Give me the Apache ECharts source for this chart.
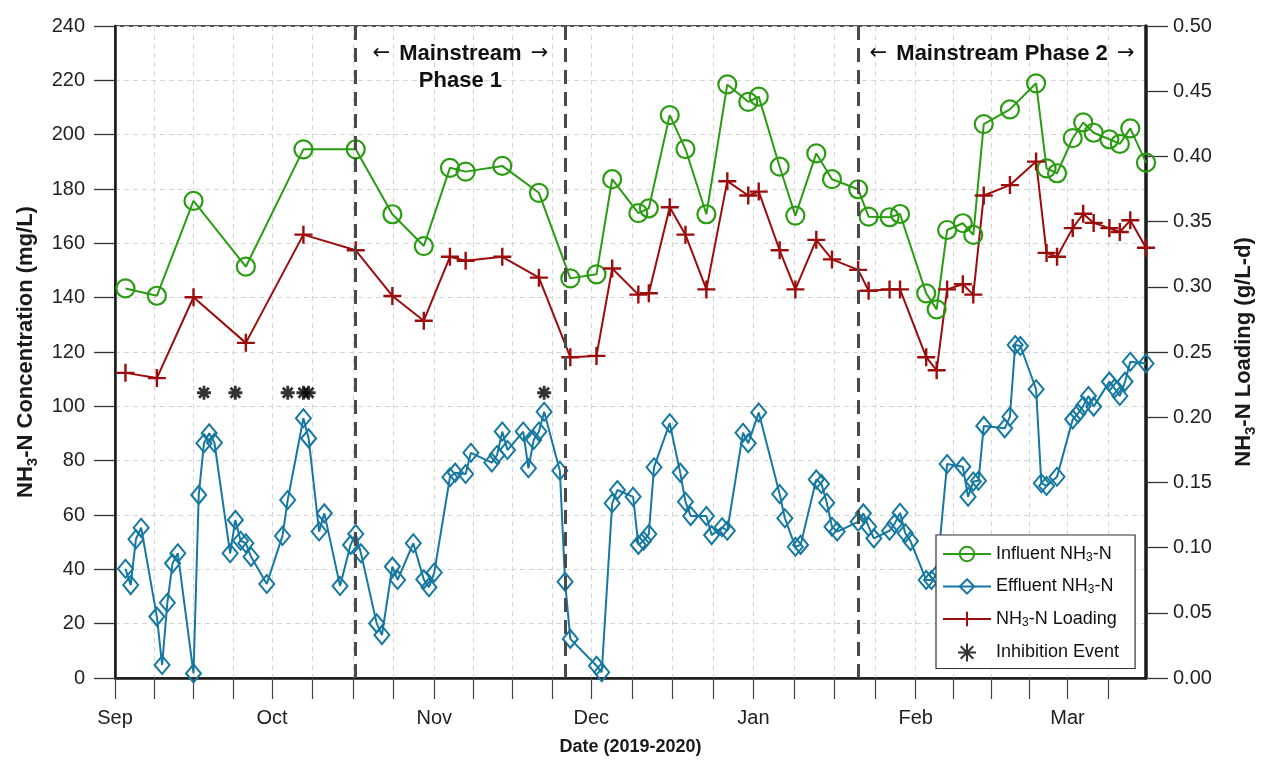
<!DOCTYPE html>
<html>
<head>
<meta charset="utf-8">
<title>NH3-N concentration and loading</title>
<script src="https://cdn.jsdelivr.net/npm/echarts@6/dist/echarts.min.js"></script>
<style>
  html, body { margin: 0; padding: 0; background: #fff; }
  #chart { width: 1270px; height: 765px; }
</style>
</head>
<body>
<div id="chart"></div>
<script>
// ---- data ----------------------------------------------------------------
const influentDates = [
  '2019-09-03','2019-09-09','2019-09-16','2019-09-26',
  '2019-10-07','2019-10-17','2019-10-24','2019-10-30',
  '2019-11-04','2019-11-07','2019-11-14','2019-11-21','2019-11-27',
  '2019-12-02','2019-12-05','2019-12-10','2019-12-12','2019-12-16','2019-12-19','2019-12-23','2019-12-27','2019-12-31',
  '2020-01-02','2020-01-06','2020-01-09','2020-01-13','2020-01-16','2020-01-21','2020-01-23','2020-01-27','2020-01-29',
  '2020-02-03','2020-02-05','2020-02-07','2020-02-10','2020-02-12','2020-02-14','2020-02-19','2020-02-24','2020-02-26','2020-02-28',
  '2020-03-02','2020-03-04','2020-03-06','2020-03-09','2020-03-11','2020-03-13','2020-03-16'
];
// Influent NH3-N (mg/L)
const influent = [
  143.4, 140.7, 175.6, 151.4,
  194.6, 194.6, 170.7, 159.0,
  187.8, 186.4, 188.5, 178.6, 147.1,
  148.6, 183.6, 171.1, 172.9, 207.2, 194.7, 170.7, 218.5, 212.1,
  214.0, 188.2, 170.2, 193.1, 183.6, 179.9, 169.8, 169.6, 170.8,
  141.6, 135.7, 164.9, 167.4, 163.1, 203.9, 209.3, 218.9, 187.6, 185.8,
  198.7, 204.5, 200.7, 198.3, 196.6, 202.3, 189.7
];
// NH3-N loading (g/L-d), same sampling dates as influent
const loading = [
  0.234, 0.230, 0.292, 0.257,
  0.340, 0.328, 0.293, 0.274,
  0.323, 0.320, 0.323, 0.307, 0.246,
  0.247, 0.314, 0.294, 0.295, 0.361, 0.340, 0.298, 0.381, 0.370,
  0.373, 0.328, 0.298, 0.336, 0.321, 0.313, 0.297, 0.298, 0.298,
  0.246, 0.236, 0.298, 0.302, 0.294, 0.370, 0.378, 0.396, 0.326, 0.323,
  0.345, 0.356, 0.349, 0.345, 0.342, 0.351, 0.330
];
const effluentDates = [
  '2019-09-03','2019-09-04','2019-09-05','2019-09-06','2019-09-09','2019-09-10','2019-09-11','2019-09-12','2019-09-13',
  '2019-09-16','2019-09-17','2019-09-18','2019-09-19','2019-09-20','2019-09-23','2019-09-24','2019-09-25','2019-09-26','2019-09-27','2019-09-30',
  '2019-10-03','2019-10-04','2019-10-07','2019-10-08','2019-10-10','2019-10-11','2019-10-14','2019-10-16','2019-10-17','2019-10-18',
  '2019-10-21','2019-10-22','2019-10-24','2019-10-25','2019-10-28','2019-10-30','2019-10-31',
  '2019-11-01','2019-11-04','2019-11-05','2019-11-07','2019-11-08','2019-11-12','2019-11-13','2019-11-14','2019-11-15',
  '2019-11-18','2019-11-19','2019-11-20','2019-11-21','2019-11-22','2019-11-25','2019-11-26','2019-11-27',
  '2019-12-02','2019-12-03','2019-12-05','2019-12-06','2019-12-09','2019-12-10','2019-12-11','2019-12-12','2019-12-13',
  '2019-12-16','2019-12-18','2019-12-19','2019-12-20','2019-12-23','2019-12-24','2019-12-26','2019-12-27','2019-12-30','2019-12-31',
  '2020-01-02','2020-01-06','2020-01-07','2020-01-09','2020-01-10','2020-01-13','2020-01-14','2020-01-15','2020-01-16','2020-01-17',
  '2020-01-21','2020-01-22','2020-01-23','2020-01-24','2020-01-27','2020-01-28','2020-01-29','2020-01-30','2020-01-31',
  '2020-02-03','2020-02-04','2020-02-05','2020-02-07','2020-02-10','2020-02-11','2020-02-12','2020-02-13','2020-02-14',
  '2020-02-18','2020-02-19','2020-02-20','2020-02-21','2020-02-24','2020-02-25','2020-02-26','2020-02-28',
  '2020-03-02','2020-03-03','2020-03-04','2020-03-05','2020-03-06','2020-03-09','2020-03-10','2020-03-11','2020-03-12','2020-03-13','2020-03-16'
];
// Effluent NH3-N (mg/L)
const effluent = [
  40.2, 34.2, 51.1, 55.3, 22.6, 4.8, 27.7, 42.2, 45.9,
  1.7, 67.4, 86.4, 90.1, 86.6, 45.9, 58.2, 50.5, 49.6, 44.6, 34.6,
  52.3, 65.5, 95.6, 88.2, 53.9, 60.6, 33.9, 49.0, 53.0, 45.9,
  20.1, 15.8, 41.0, 36.1, 49.6, 36.3, 33.4,
  38.8, 73.9, 75.6, 75.1, 82.9, 79.3, 82.1, 90.7, 83.9,
  90.7, 77.2, 87.6, 90.7, 98.0, 76.3, 35.4, 14.4,
  4.5, 2.1, 64.3, 69.2, 66.7, 49.0, 50.5, 53.0, 77.6,
  93.8, 75.6, 64.9, 59.6, 59.6, 52.6, 55.5, 54.2, 90.3, 86.4,
  97.7, 67.7, 58.8, 48.3, 49.0, 73.1, 71.4, 64.5, 55.7, 53.9,
  57.5, 60.6, 55.7, 51.4, 54.2, 56.9, 60.8, 53.3, 50.4,
  36.1, 36.1, 37.9, 78.8, 77.8, 66.7, 72.3, 72.6, 92.8,
  91.9, 96.2, 122.6, 122.2, 106.3, 71.7, 70.7, 74.1,
  95.2, 97.4, 100.1, 103.8, 99.9, 109.1, 106.6, 103.8, 109.1, 116.4, 115.8
];
// Inhibition events, flagged at a fixed level above the effluent curve
const inhibitionDates = ['2019-09-18','2019-09-24','2019-10-04','2019-10-07','2019-10-08','2019-11-22'];
const inhibitionLevel = [105, 105, 105, 105, 105, 105];

// Operating phases
const phaseBoundaries = ['2019-10-17','2019-11-26','2020-01-21'];
const phaseNotes = [
  { text: '← Mainstream →\nPhase 1', from: '2019-10-17', to: '2019-11-26' },
  { text: '← Mainstream Phase 2 →', from: '2020-01-21', to: '2020-03-16' }
];

// Axis definitions
const axisStart = '2019-09-01';
const axisEnd = '2020-03-16';
const monthStarts = ['2019-09-01','2019-10-01','2019-11-01','2019-12-01','2020-01-01','2020-02-01','2020-03-01','2020-04-01'];
const monthLabels = ['Sep','Oct','Nov','Dec','Jan','Feb','Mar'];
const concentrationTicks = [0, 240, 20];
const loadingTicks = [0, 0.5, 0.05];

// ---- helpers ---------------------------------------------------------------
const DAY = 86400000;
function dayOf(s) {
  const [y, m, d] = s.split('-').map(Number);
  const [y0, m0, d0] = axisStart.split('-').map(Number);
  return Math.round((Date.UTC(y, m - 1, d) - Date.UTC(y0, m0 - 1, d0)) / DAY);
}
const pairs = (dates, vals) => dates.map((d, i) => [dayOf(d), vals[i]]);

const xMax = dayOf(axisEnd);
const monthDays = monthStarts.map(dayOf);
// four ticks per month
const xTicks = [];
for (let i = 0; i < monthDays.length - 1; i++) {
  const s = monthDays[i], len = monthDays[i + 1] - s;
  for (let k = 0; k < 4; k++) {
    const v = s + k * len / 4;
    if (v <= xMax + 1e-6) xTicks.push(v);
  }
}
const xLabelValues = monthDays.slice(0, monthLabels.length);

const FONT = '"Liberation Sans", Arial, Helvetica, sans-serif';
const GREEN = '#2a9c12';
const BLUE = '#1578a1';
const RED = '#9c0c0c';

const SYM = {
  circle: 'path://M0,10A10,10,0,1,1,20,10A10,10,0,1,1,0,10Z',
  diamond: 'path://M10,0L20,12L10,24L0,12Z',
  plus: 'path://M10,0L10,20M0,10L20,10',
  star: 'path://M10,0L10,20M0,10L20,10M3,3L17,17M17,3L3,17'
};

// rich-text styles for a bold title with a subscript "3"
const titleRich = (size) => ({
  n: { fontSize: size, fontWeight: 'bold', lineHeight: 28, color: '#1a1a1a', fontFamily: FONT },
  s: { fontSize: Math.round(size * 0.68), fontWeight: 'bold', lineHeight: 14, verticalAlign: 'bottom', color: '#1a1a1a', fontFamily: FONT }
});
const withSub = (txt) => txt.split('NH3').map(p => p ? '{n|' + p + '}' : '').join('{n|NH}{s|3}');

const legendNames = {
  'Influent NH3-N': '{n|Influent NH}{s|3}{n|-N}',
  'Effluent NH3-N': '{n|Effluent NH}{s|3}{n|-N}',
  'NH3-N Loading': '{n|NH}{s|3}{n|-N Loading}',
  'Inhibition Event': '{n|Inhibition Event}'
};

// ---- chart -----------------------------------------------------------------
const chart = echarts.init(document.getElementById('chart'), null, { renderer: 'canvas' });

const option = {
  animation: false,
  backgroundColor: '#fff',
  textStyle: { fontFamily: FONT },
  grid: {
    left: 115, right: 124, top: 26, bottom: 87,
    show: true, borderColor: '#1a1a1a', borderWidth: 1.5, backgroundColor: 'transparent'
  },
  legend: {
    orient: 'vertical',
    left: 936, top: 535,
    itemWidth: 48, itemHeight: 18, itemGap: 14,
    padding: [10, 16, 6, 6],
    backgroundColor: '#fff',
    borderColor: '#333', borderWidth: 1.2,
    data: ['Influent NH3-N', 'Effluent NH3-N', 'NH3-N Loading', 'Inhibition Event'],
    formatter: (name) => legendNames[name],
    textStyle: {
      color: '#111', fontSize: 18,
      rich: {
        n: { fontSize: 18, lineHeight: 19, color: '#111', fontFamily: FONT },
        s: { fontSize: 12, lineHeight: 8, verticalAlign: 'bottom', color: '#111', fontFamily: FONT }
      }
    }
  },
  xAxis: {
    type: 'value',
    min: 0, max: xMax,
    name: 'Date (2019-2020)',
    nameLocation: 'middle', nameGap: 60,
    nameTextStyle: { fontSize: 18, fontWeight: 'bold', color: '#1a1a1a', fontFamily: FONT },
    axisLine: { show: true, onZero: false, lineStyle: { color: '#1a1a1a', width: 2.5 } },
    axisTick: { show: true, inside: false, length: 21, customValues: xTicks, lineStyle: { color: '#444', width: 1.2 } },
    axisLabel: {
      customValues: xLabelValues, margin: 30, fontSize: 20, color: '#222', fontFamily: FONT,
      formatter: (v) => monthLabels[xLabelValues.indexOf(v)] || ''
    },
    splitLine: { show: true, lineStyle: { color: '#d6d6d6', type: [5, 4], width: 1 } }
  },
  yAxis: [
    {
      type: 'value',
      min: concentrationTicks[0], max: concentrationTicks[1], interval: concentrationTicks[2],
      position: 'left',
      name: withSub('NH3-N Concentration (mg/L)'),
      nameLocation: 'middle', nameRotate: 90, nameGap: 75,
      nameTextStyle: { fontSize: 22, fontWeight: 'bold', color: '#1a1a1a', fontFamily: FONT, rich: titleRich(22) },
      axisLine: { show: true, lineStyle: { color: '#1a1a1a', width: 2.5 } },
      axisTick: { show: true, inside: false, length: 21, lineStyle: { color: '#333', width: 1.3 } },
      axisLabel: { margin: 30, fontSize: 20, color: '#222', fontFamily: FONT },
      splitLine: { show: true, lineStyle: { color: '#d6d6d6', type: [5, 4], width: 1 } }
    },
    {
      type: 'value',
      min: loadingTicks[0], max: loadingTicks[1], interval: loadingTicks[2],
      position: 'right',
      name: withSub('NH3-N Loading (g/L-d)'),
      nameLocation: 'middle', nameRotate: 90, nameGap: 84,
      nameTextStyle: { fontSize: 22, fontWeight: 'bold', color: '#1a1a1a', fontFamily: FONT, rich: titleRich(22) },
      axisLine: { show: true, lineStyle: { color: '#1a1a1a', width: 3.5 } },
      axisTick: { show: true, inside: false, length: 22, lineStyle: { color: '#333', width: 1.3 } },
      axisLabel: { margin: 27, fontSize: 20, color: '#222', fontFamily: FONT, formatter: (v) => v.toFixed(2) },
      splitLine: { show: false }
    }
  ],
  series: [
    {
      name: 'Influent NH3-N',
      type: 'line',
      yAxisIndex: 0,
      data: pairs(influentDates, influent),
      symbol: SYM.circle, symbolSize: 18, showAllSymbol: true,
      lineStyle: { color: GREEN, width: 2 },
      itemStyle: { color: 'rgba(0,0,0,0)', borderColor: GREEN, borderWidth: 2.2 },
      z: 4,
      markLine: {
        silent: true,
        symbol: ['none', 'none'],
        label: { show: false },
        lineStyle: { color: '#4a4a4a', type: [14, 8], width: 3 },
        data: phaseBoundaries.map(d => ({ xAxis: dayOf(d) }))
      },
      markPoint: {
        silent: true,
        symbol: 'circle', symbolSize: 1,
        itemStyle: { color: 'rgba(0,0,0,0)' },
        label: {
          show: true, position: 'bottom', distance: 0,
          fontSize: 22, fontWeight: 'bold', color: '#111', lineHeight: 27, fontFamily: FONT,
          formatter: (p) => p.name.replace(/←/g, '{a|←}').replace(/→/g, '{a|→}'),
          rich: { a: { fontSize: 21, fontWeight: 'normal', color: '#111', lineHeight: 27, padding: [0, 3, 0, 3], fontFamily: '"DejaVu Sans", sans-serif' } }
        },
        data: phaseNotes.map(p => ({ name: p.text, coord: [(dayOf(p.from) + dayOf(p.to)) / 2, 234.9] }))
      }
    },
    {
      name: 'Effluent NH3-N',
      type: 'line',
      yAxisIndex: 0,
      data: pairs(effluentDates, effluent),
      symbol: SYM.diamond, symbolSize: [15, 18], showAllSymbol: true,
      lineStyle: { color: BLUE, width: 2 },
      itemStyle: { color: 'rgba(0,0,0,0)', borderColor: BLUE, borderWidth: 2 },
      z: 3
    },
    {
      name: 'NH3-N Loading',
      type: 'line',
      yAxisIndex: 1,
      data: pairs(influentDates, loading),
      symbol: SYM.plus, symbolSize: 18, showAllSymbol: true,
      lineStyle: { color: RED, width: 2 },
      itemStyle: { color: 'rgba(0,0,0,0)', borderColor: RED, borderWidth: 2.4 },
      z: 4
    },
    {
      name: 'Inhibition Event',
      type: 'scatter',
      yAxisIndex: 0,
      data: pairs(inhibitionDates, inhibitionLevel),
      symbol: SYM.star, symbolSize: 14,
      itemStyle: { color: 'rgba(0,0,0,0)', borderColor: '#000', borderWidth: 2.8 },
      z: 5
    }
  ]
};

chart.setOption(option);
</script>
</body>
</html>
